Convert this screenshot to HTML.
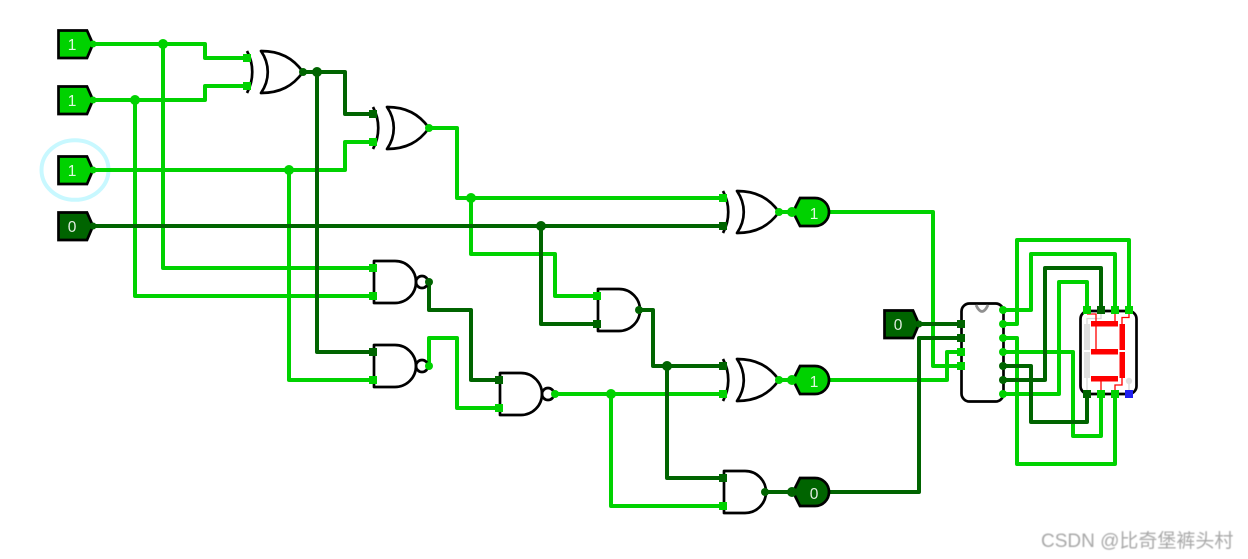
<!DOCTYPE html>
<html>
<head>
<meta charset="utf-8">
<style>
html,body{margin:0;padding:0;background:#fff;width:1248px;height:559px;overflow:hidden}
svg{display:block}
.w{fill:none;stroke-width:4;stroke-linejoin:round;stroke-linecap:round}
.b{stroke:#00d200}
.d{stroke:#006400}
.g{fill:#fff;fill-opacity:0;stroke:#000;stroke-width:2.7;stroke-linejoin:round}
.v{font:15.5px "Liberation Sans",sans-serif;fill:#fff;fill-opacity:.88;text-anchor:middle;font-weight:normal}
.fb{fill:#00d200}
.fd{fill:#006400}
.pin{stroke:#000;stroke-width:2.7;stroke-linejoin:miter}
.seg{fill:#f00}
.off{fill:#e0e0e0}
.rl{fill:none;stroke:#f00;stroke-width:1.3}
.gl{fill:none;stroke:#d8d8d8;stroke-width:1.3}
</style>
</head>
<body>
<svg width="1248" height="559" viewBox="0 0 1248 559" xmlns="http://www.w3.org/2000/svg">
<ellipse cx="75" cy="170" rx="33.5" ry="29.8" fill="none" stroke="#c8f8ff" stroke-width="4"/>

<!-- bright wires -->
<g class="w b">
<path d="M93,44H205V58H247"/>
<path d="M93,100H205V86H247"/>
<path d="M163,44V268H373"/>
<path d="M135,100V296H373"/>
<path d="M93,170H345V142H373"/>
<path d="M289,170V380H373"/>
<path d="M429,128H457V198H723"/>
<path d="M471,198V254H555V296H597"/>
<path d="M779,212H793"/>
<path d="M829,212H933V366H961"/>
<path d="M429,366V338H457V408H499"/>
<path d="M555,394H723"/>
<path d="M611,394V506H723"/>
<path d="M779,380H793"/>
<path d="M829,380H947V352H961"/>
<path d="M1003,310H1031V254H1115V310"/>
<path d="M1003,324H1017V240H1129V310"/>
<path d="M1003,338H1017V464H1115V394"/>
<path d="M1003,352H1073V436H1101V394"/>
<path d="M1003,394H1059V282H1087V310"/>
</g>
<!-- dark wires -->
<g class="w d">
<path d="M93,226H723"/>
<path d="M541,226V324H597"/>
<path d="M303,72H345V114H373"/>
<path d="M317,72V352H373"/>
<path d="M429,282V310H471V380H499"/>
<path d="M639,310H653V366H723"/>
<path d="M667,366V478H723"/>
<path d="M765,492H793"/>
<path d="M829,492H919V338H961"/>
<path d="M919,324H961"/>
<path d="M1003,366H1031V422H1087V394"/>
<path d="M1003,380H1045V268H1101V310"/>
</g>

<!-- input pins -->
<g class="pin">
<path class="fb" d="M58.5,30.5H87L93,44L87,58H58.5Z"/>
<path class="fb" d="M58.5,86.5H87L93,100L87,114H58.5Z"/>
<path class="fb" d="M58.5,156.5H87L93,170L87,184H58.5Z"/>
<path class="fd" d="M58.5,212.5H87L93,226L87,240H58.5Z"/>
<path class="fd" d="M884.5,310.5H913L919,324L913,338H884.5Z"/>
</g>
<text class="v" x="72" y="50">1</text>
<text class="v" x="72" y="106">1</text>
<text class="v" x="72" y="176">1</text>
<text class="v" x="72" y="232">0</text>
<text class="v" x="898" y="330">0</text>

<!-- output pins -->
<g class="pin">
<path class="fb" d="M793,212L800,198H815A14,14 0 0 1 815,226H800Z"/>
<path class="fb" d="M793,380L800,366H815A14,14 0 0 1 815,394H800Z"/>
<path class="fd" d="M793,492L800,478H815A14,14 0 0 1 815,506H800Z"/>
</g>
<text class="v" x="814" y="219">1</text>
<text class="v" x="814" y="387">1</text>
<text class="v" x="814" y="499">0</text>

<!-- XOR gates -->
<g class="g">
<path d="M261,51C280,51 293,58 303,72C293,86 280,93 261,93C270,80 270,64 261,51Z"/>
<path d="M247,51C254,64 254,80 247,93"/>
<path d="M387,107C406,107 419,114 429,128C419,142 406,149 387,149C396,136 396,120 387,107Z"/>
<path d="M373,107C380,120 380,136 373,149"/>
<path d="M737,191C756,191 769,198 779,212C769,226 756,233 737,233C746,220 746,204 737,191Z"/>
<path d="M723,191C730,204 730,220 723,233"/>
<path d="M737,359C756,359 769,366 779,380C769,394 756,401 737,401C746,388 746,372 737,359Z"/>
<path d="M723,359C730,372 730,388 723,401"/>
</g>
<!-- AND / NAND gates -->
<g class="g">
<path d="M395,261H374V303H395A21,21 0 0 0 395,261Z"/>
<circle cx="422" cy="282" r="6"/>
<path d="M395,345H374V387H395A21,21 0 0 0 395,345Z"/>
<circle cx="422" cy="366" r="6"/>
<path d="M521,373H500V415H521A21,21 0 0 0 521,373Z"/>
<circle cx="548" cy="394" r="6"/>
<path d="M619,289H598V331H619A21,21 0 0 0 619,289Z"/>
<path d="M745,471H724V513H745A21,21 0 0 0 745,471Z"/>
</g>

<!-- IC -->
<rect x="961.5" y="303.5" width="42" height="98" rx="8" ry="8" fill="#fff" stroke="#000" stroke-width="2.7"/>
<path d="M976,305Q982,318 988,305" fill="none" stroke="#909090" stroke-width="2.8"/>

<!-- Seven segment -->
<rect x="1080.5" y="311" width="56" height="83" rx="8" ry="8" fill="#fff" stroke="#000" stroke-width="2.7"/>
<path class="gl" d="M1101,314V318.5H1087V324"/>
<path class="gl" d="M1087,394V378"/>
<path class="gl" d="M1129,394V381"/>
<path class="rl" d="M1087,314H1096V349"/>
<path class="rl" d="M1115,314V321"/>
<path class="rl" d="M1129,314V317.5H1122V324"/>
<path class="rl" d="M1101,390V381"/>
<path class="rl" d="M1115,390V385H1122V378"/>
<rect class="off" x="1084" y="324" width="6" height="26"/>
<rect class="off" x="1084" y="352" width="6" height="26"/>
<rect class="seg" x="1091" y="321" width="27" height="5.5"/>
<rect class="seg" x="1091" y="349" width="27" height="5.5"/>
<rect class="seg" x="1091" y="376" width="27" height="5.5"/>
<rect class="seg" x="1119.5" y="324" width="5.5" height="26"/>
<rect class="seg" x="1119.5" y="352" width="5.5" height="26"/>
<circle cx="1129" cy="381" r="3.2" fill="#e0e0e0"/>

<!-- square pins -->
<g class="fb">
<rect x="243" y="54" width="8" height="8"/>
<rect x="243" y="82" width="8" height="8"/>
<rect x="369" y="138" width="8" height="8"/>
<rect x="719" y="194" width="8" height="8"/>
<rect x="369" y="264" width="8" height="8"/>
<rect x="369" y="292" width="8" height="8"/>
<rect x="369" y="376" width="8" height="8"/>
<rect x="495" y="404" width="8" height="8"/>
<rect x="593" y="292" width="8" height="8"/>
<rect x="719" y="390" width="8" height="8"/>
<rect x="719" y="502" width="8" height="8"/>
<rect x="957" y="348" width="8" height="8"/>
<rect x="957" y="362" width="8" height="8"/>
<rect x="1083" y="306" width="8" height="8"/>
<rect x="1111" y="306" width="8" height="8"/>
<rect x="1125" y="306" width="8" height="8"/>
<rect x="1097" y="390" width="8" height="8"/>
<rect x="1111" y="390" width="8" height="8"/>
</g>
<g class="fd">
<rect x="369" y="110" width="8" height="8"/>
<rect x="719" y="222" width="8" height="8"/>
<rect x="369" y="348" width="8" height="8"/>
<rect x="495" y="376" width="8" height="8"/>
<rect x="593" y="320" width="8" height="8"/>
<rect x="719" y="362" width="8" height="8"/>
<rect x="719" y="474" width="8" height="8"/>
<rect x="957" y="320" width="8" height="8"/>
<rect x="957" y="334" width="8" height="8"/>
<rect x="1097" y="306" width="8" height="8"/>
<rect x="1083" y="390" width="8" height="8"/>
</g>
<rect x="1125" y="390" width="8" height="8" fill="#2020f0"/>

<!-- dots -->
<g class="fb">
<circle cx="93" cy="44" r="3.5"/>
<circle cx="93" cy="100" r="3.5"/>
<circle cx="93" cy="170" r="3.5"/>
<circle cx="163" cy="44" r="5"/>
<circle cx="135" cy="100" r="5"/>
<circle cx="289" cy="170" r="5"/>
<circle cx="471" cy="198" r="5"/>
<circle cx="611" cy="394" r="5"/>
<circle cx="429" cy="128" r="4"/>
<circle cx="429" cy="366" r="4"/>
<circle cx="555" cy="394" r="4"/>
<circle cx="779" cy="212" r="4"/>
<circle cx="792" cy="212" r="5"/>
<circle cx="779" cy="380" r="4"/>
<circle cx="792" cy="380" r="5"/>
<circle cx="1003" cy="310" r="4"/>
<circle cx="1003" cy="324" r="4"/>
<circle cx="1003" cy="338" r="4"/>
<circle cx="1003" cy="352" r="4"/>
<circle cx="1003" cy="394" r="4"/>
</g>
<g class="fd">
<circle cx="93" cy="226" r="3.5"/>
<circle cx="919" cy="324" r="3.5"/>
<circle cx="303" cy="72" r="4"/>
<circle cx="317" cy="72" r="5"/>
<circle cx="541" cy="226" r="5"/>
<circle cx="667" cy="366" r="5"/>
<circle cx="429" cy="282" r="4"/>
<circle cx="639" cy="310" r="4"/>
<circle cx="765" cy="492" r="4"/>
<circle cx="792" cy="492" r="5"/>
<circle cx="1003" cy="366" r="4"/>
<circle cx="1003" cy="380" r="4"/>
</g>

<text x="1041" y="547" style="font:19px 'Liberation Sans','Noto Sans CJK SC',sans-serif;fill:#a8a8a8;filter:blur(.4px)">CSDN @比奇堡裤头村</text>
</svg>
</body>
</html>
